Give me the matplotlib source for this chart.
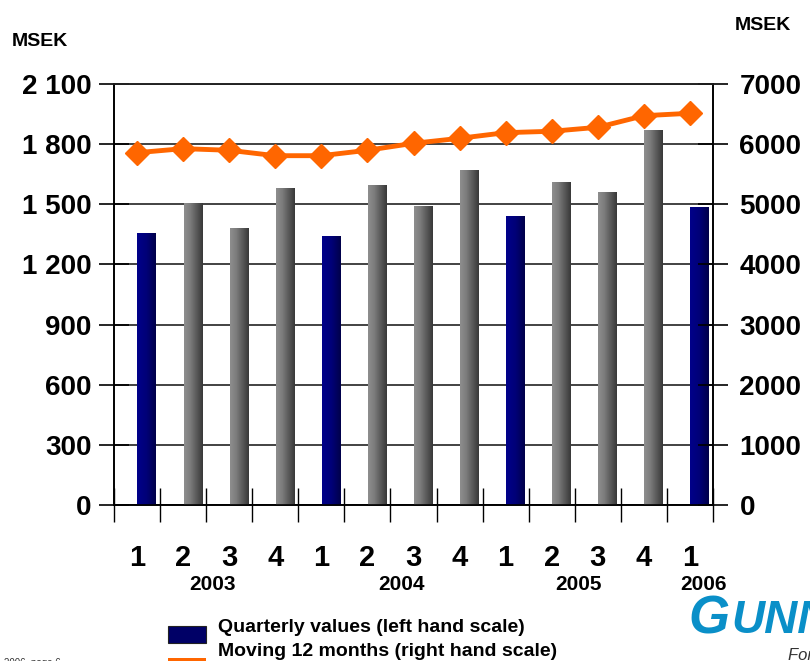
import matplotlib
matplotlib.use("Agg")
import matplotlib.pyplot as plt
import numpy as np
from matplotlib.colors import LinearSegmentedColormap
from matplotlib.patches import Rectangle

plt.rcParams['font.family'] = ['Liberation Sans', 'DejaVu Sans']

# data (MSEK)
quarters = ['1', '2', '3', '4', '1', '2', '3', '4', '1', '2', '3', '4', '1']
years = ['2003', '2004', '2005', '2006']
year_pos = [1.64, 5.73, 9.59, 12.3]
quarterly = [1357, 1506, 1381, 1581, 1342, 1596, 1491, 1671, 1441, 1611, 1561, 1870, 1486]
moving12 = [5858, 5925, 5898, 5808, 5808, 5898, 6014, 6097, 6191, 6214, 6280, 6473, 6513]
left_ticks = [0, 300, 600, 900, 1200, 1500, 1800, 2100]
left_labels = ['0', '300', '600', '900', '1 200', '1 500', '1 800', '2 100']
right_ticks = [0, 1000, 2000, 3000, 4000, 5000, 6000, 7000]

W, H = 810, 661
fig = plt.figure(figsize=(W / 100, H / 100), dpi=100)
ax = fig.add_axes([114 / W, 1 - 505 / H, 599 / W, 421 / H])
ax2 = ax.twinx()

x = np.arange(len(quarterly))
is_q1 = [q == '1' for q in quarters]

# bars with horizontal shading
navy_cm = LinearSegmentedColormap.from_list('navy', ['#00008a', '#000078', '#00004a'])
gray_cm = LinearSegmentedColormap.from_list('gray', ['#8e8e8e', '#7c7c7c', '#5a5a5a', '#383838'])
grad = np.linspace(0, 1, 64).reshape(1, -1)
bars = ax.bar(x + 0.21, quarterly, width=0.4, color='none', edgecolor='none', zorder=3)
for b, q1 in zip(bars, is_q1):
    x0, y0 = b.get_x(), b.get_y()
    im = ax.imshow(grad, cmap=navy_cm if q1 else gray_cm, aspect='auto',
                   extent=[x0, x0 + b.get_width(), y0, y0 + b.get_height()], zorder=3)
    im.set_clip_path(b)

ax.set_xlim(-0.5, 12.5)
ax.set_ylim(0, 2100)
ax.set_yticks(left_ticks)
ax.set_yticklabels(left_labels, fontsize=20, fontweight='bold')
ax.yaxis.grid(True, color='#222222', linewidth=1.2, zorder=0)
ax.set_axisbelow(True)

# x axis: ticks at category boundaries, labels at centers
ax.set_xticks(np.arange(-0.5, 12.6, 1))
ax.set_xticklabels([])
ax.set_xticks(x, minor=True)
ax.set_xticklabels(quarters, minor=True, fontsize=21, fontweight='bold')
ax.tick_params(axis='x', which='major', direction='inout', length=24, width=1, color='black')
ax.tick_params(axis='x', which='minor', length=0, pad=28)
ax.tick_params(axis='y', direction='inout', length=22, width=1.2, pad=5)

for i, yr in enumerate(years):
    ax.text(year_pos[i], -0.19, yr, transform=ax.get_xaxis_transform(),
            ha='center', va='center', fontsize=15, fontweight='bold')

ax2.plot(x, moving12, color='#ff6600', linewidth=3.5, marker='D', markersize=12, zorder=5)
ax2.set_ylim(0, 7000)
ax2.set_yticks(right_ticks)
ax2.set_yticklabels([str(t) for t in right_ticks], fontsize=20, fontweight='bold')
ax2.tick_params(axis='y', direction='inout', length=22, width=1.2, pad=8)

for a in (ax, ax2):
    for s in a.spines.values():
        s.set_color('black')
        s.set_linewidth(1.2)
    a.spines['top'].set_color('#222222')

fig.text(12 / W, 1 - 41 / H, 'MSEK', fontsize=14, fontweight='bold', va='center')
fig.text(735 / W, 1 - 25 / H, 'MSEK', fontsize=14, fontweight='bold', va='center')

# legend
fig.patches.append(Rectangle((168 / W, 1 - 643 / H), 38 / W, 17 / H, transform=fig.transFigure,
                             facecolor='#000066', edgecolor='#222222', linewidth=0.8))
fig.patches.append(Rectangle((168 / W, 1 - 664 / H), 38 / W, 6 / H, transform=fig.transFigure,
                             facecolor='#ff6600', edgecolor='none'))
fig.text(218 / W, 1 - 628 / H, 'Quarterly values (left hand scale)', fontsize=14,
         fontweight='bold', va='center')
fig.text(218 / W, 1 - 651 / H, 'Moving 12 months (right hand scale)', fontsize=14,
         fontweight='bold', va='center')

# footer
fig.text(4 / W, 1 - 663 / H, '2006, page 6', fontsize=7, color='#333333', va='center')
fig.text(688 / W, 1 - 620 / H, 'G', fontsize=38, fontweight='bold', style='italic',
         color='#0a8fc8', va='center')
fig.text(731 / W, 1 - 621 / H, 'UNNEBO', fontsize=33, fontweight='bold', style='italic',
         color='#0a8fc8', va='center')
fig.text(788 / W, 1 - 656 / H, 'For a safer world', fontsize=12, style='italic',
         color='#333333', va='center')

fig.savefig('out.png', dpi=100)
